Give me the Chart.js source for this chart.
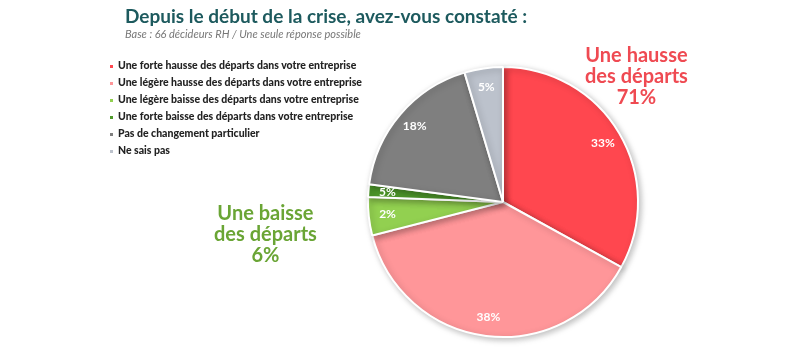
<!DOCTYPE html>
<html lang="fr">
<head>
<meta charset="utf-8">
<title>Depuis le début de la crise</title>
<script src="https://cdn.jsdelivr.net/npm/chart.js@4"></script>
<style>
    html, body { margin: 0; padding: 0; background: #fff; }
    #wrap { position: relative; width: 800px; height: 352px; overflow: hidden; font-family: "Lato", "DejaVu Sans", sans-serif; }
    #chart { position: absolute; left: 0; top: 0; }
    .title { position: absolute; left: 125px; top: 4px; font-size: 19px; font-weight: 700; color: #1d5a5e; white-space: nowrap; }
    .subtitle { position: absolute; left: 125px; top: 27px; font-size: 11px; font-style: italic; color: #777; white-space: nowrap; }
    #legend { position: absolute; left: 110px; top: 57px; }
    #legend div { height: 17px; line-height: 17px; font-size: 10.5px; font-weight: 900; color: #222; white-space: nowrap; }
    #legend span.box { display: inline-block; width: 3px; height: 3px; margin-right: 5px; vertical-align: middle; }
    .group { position: absolute; text-align: center; font-size: 20px; font-weight: 700; line-height: 21px; white-space: nowrap; }
</style>
</head>
<body>
<div id="wrap">
    <canvas id="chart" width="800" height="352"></canvas>
    <div class="title">Depuis le début de la crise, avez-vous constaté :</div>
    <div class="subtitle">Base : 66 décideurs RH / Une seule réponse possible</div>
    <div id="legend"></div>
    <div class="group" id="groupUp" style="left:585px; top:44px; color:#ef4a52;"></div>
    <div class="group" id="groupDown" style="left:214px; top:202px; color:#6aa535;"></div>
</div>
<script>
    // Categories (legend order = slice order, clockwise from top)
    const categories = [
        'Une forte hausse des départs dans votre entreprise',
        'Une légère hausse des départs dans votre entreprise',
        'Une légère baisse des départs dans votre entreprise',
        'Une forte baisse des départs dans votre entreprise',
        'Pas de changement particulier',
        'Ne sais pas'
    ];
    // Slice sizes
    const sliceValues = [33, 38, 4.6, 1.5, 18.3, 4.6];
    // Labels printed on the slices
    const sliceLabels = ['33%', '38%', '2%', '5%', '18%', '5%'];
    const sliceColors = ['#ff474f', '#ff9699', '#92d050', '#4f9a2b', '#7f7f7f', '#bcc2cc'];

    // Grouped call-outs
    const groupUp = ['Une hausse', 'des départs', '71%'];
    const groupDown = ['Une baisse', 'des départs', '6%'];

    // legend
    const legendEl = document.getElementById('legend');
    categories.forEach((c, i) => {
        const row = document.createElement('div');
        const box = document.createElement('span');
        box.className = 'box';
        box.style.background = sliceColors[i];
        row.appendChild(box);
        row.appendChild(document.createTextNode(c));
        legendEl.appendChild(row);
    });
    document.getElementById('groupUp').innerHTML = groupUp.join('<br>');
    document.getElementById('groupDown').innerHTML = groupDown.join('<br>');

    // Plugin: labels inside slices
    const sliceLabelPlugin = {
        id: 'sliceLabels',
        afterDatasetsDraw(chart) {
            const ctx = chart.ctx;
            const meta = chart.getDatasetMeta(0);
            ctx.save();
            ctx.font = 'bold 12px Lato, "DejaVu Sans", sans-serif';
            ctx.fillStyle = '#ffffff';
            ctx.textAlign = 'center';
            ctx.textBaseline = 'middle';
            meta.data.forEach((arc, i) => {
                const p = arc.getProps(['x', 'y', 'startAngle', 'endAngle', 'outerRadius'], true);
                const mid = (p.startAngle + p.endAngle) / 2;
                const r = p.outerRadius * 0.86;
                ctx.fillText(sliceLabels[i], p.x + Math.cos(mid) * r, p.y + Math.sin(mid) * r);
            });
            ctx.restore();
        }
    };

    // Plugin: soft shadow under the pie
    const shadowPlugin = {
        id: 'pieShadow',
        beforeDatasetsDraw(chart) {
            const ctx = chart.ctx;
            ctx.save();
            ctx.shadowColor = 'rgba(0,0,0,0.25)';
            ctx.shadowBlur = 6;
            ctx.shadowOffsetX = 2;
            ctx.shadowOffsetY = 2;
        },
        afterDatasetsDraw(chart) {
            chart.ctx.restore();
        }
    };

    const ctx = document.getElementById('chart').getContext('2d');
    new Chart(ctx, {
        type: 'pie',
        data: {
            labels: categories,
            datasets: [{
                data: sliceValues,
                backgroundColor: sliceColors,
                borderColor: '#ffffff',
                borderWidth: 2
            }]
        },
        options: {
            responsive: false,
            animation: false,
            layout: { padding: { left: 367, right: 161, top: 66, bottom: 14 } },
            plugins: {
                legend: { display: false },
                tooltip: { enabled: false }
            }
        },
        plugins: [shadowPlugin, sliceLabelPlugin]
    });
</script>
</body>
</html>
